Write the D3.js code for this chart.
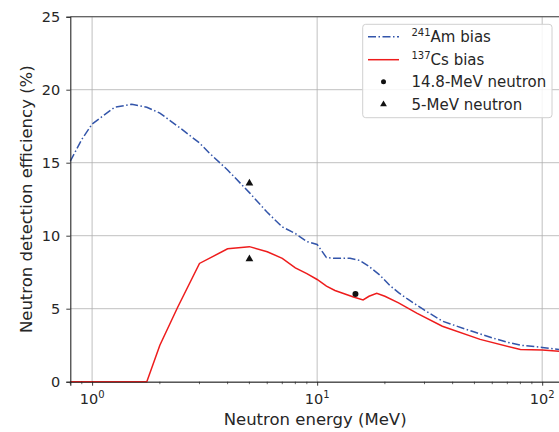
<!DOCTYPE html>
<html>
<head>
<meta charset="utf-8">
<script src="https://cdn.jsdelivr.net/npm/d3@7"></script>
<style>
  body { margin: 0; background: #fff; }
  svg text { font-family: "DejaVu Sans", sans-serif; fill: #262626; }
</style>
</head>
<body>
<div id="chart"></div>
<script>
// Am-241 bias curve (MeV, %)
const amEnergy = [0.8, 0.9, 1.0, 1.26, 1.5, 1.75, 2.0, 2.5, 3.0, 3.3, 4.0, 5.0, 6.0, 7.0, 8.0, 9.0, 10.0, 11.0, 12.0, 14.0, 15.5, 17.0, 19.0, 21.0, 23.0, 25.0, 30.0, 36.0, 40.0, 50.0, 60.0, 70.0, 80.0, 100.0, 120.0];
const amEff    = [15.1, 16.6, 17.65, 18.8, 19.0, 18.8, 18.4, 17.3, 16.35, 15.7, 14.5, 12.95, 11.6, 10.6, 10.15, 9.6, 9.4, 8.5, 8.45, 8.45, 8.3, 7.9, 7.3, 6.6, 6.1, 5.7, 4.9, 4.15, 3.9, 3.4, 3.0, 2.7, 2.5, 2.35, 2.2];
// Cs-137 bias curve
const csEnergy = [0.8, 1.75, 2.0, 2.4, 3.0, 4.0, 5.0, 6.0, 7.0, 8.0, 9.0, 10.0, 11.0, 12.0, 14.5, 16.0, 17.0, 18.4, 20.0, 23.0, 27.7, 36.0, 53.0, 80.0, 100.0, 120.0];
const csEff    = [0, 0, 2.5, 5.1, 8.1, 9.1, 9.25, 8.9, 8.45, 7.8, 7.4, 7.0, 6.55, 6.25, 5.8, 5.6, 5.85, 6.05, 5.85, 5.4, 4.7, 3.8, 2.9, 2.2, 2.17, 2.08];
// measured points
const dtEnergy = [14.8], dtEff = [6.0];
const ddEnergy = [5, 5], ddEff = [13.6, 8.4];

const yTicks = [0, 5, 10, 15, 20, 25];
const xTicks = [1, 10, 100];
const xTickLabels = ["0", "1", "2"];

const W = 559, H = 432;
const m = {left: 70.3, top: 16.7, right: 560, bottom: 381.7};

const svg = d3.select("#chart").append("svg")
  .attr("width", W).attr("height", H);

const x = d3.scaleLog().domain([0.8, 120]).range([m.left, m.right]);
const y = d3.scaleLinear().domain([0, 25]).range([m.bottom, m.top]);

// grid
const grid = svg.append("g").attr("stroke", "#b0b0b0").attr("stroke-width", 0.8);
grid.selectAll(".hg").data(yTicks).join("line")
  .attr("x1", m.left).attr("x2", m.right)
  .attr("y1", d => y(d)).attr("y2", d => y(d));
grid.selectAll(".vg").data(xTicks).join("line")
  .attr("x1", d => x(d)).attr("x2", d => x(d))
  .attr("y1", m.top).attr("y2", m.bottom);

// curves
const lineFn = (xs, ys) => d3.line().x((d, i) => x(xs[i])).y((d, i) => y(ys[i]))(xs);

svg.append("path").attr("d", lineFn(csEnergy, csEff))
  .attr("fill", "none").attr("stroke", "#ee1c1c").attr("stroke-width", 1.5);
svg.append("path").attr("d", lineFn(amEnergy, amEff))
  .attr("fill", "none").attr("stroke", "#3355aa").attr("stroke-width", 1.5)
  .attr("stroke-dasharray", "8,2.5,1.5,2.5");

svg.selectAll(".dt").data(dtEnergy).join("circle")
  .attr("cx", d => x(d)).attr("cy", (d, i) => y(dtEff[i])).attr("r", 3).attr("fill", "#111");
const tri = d3.symbol().type(d3.symbolTriangle).size(26);
svg.selectAll(".dd").data(ddEnergy).join("path")
  .attr("d", tri)
  .attr("transform", (d, i) => `translate(${x(d)},${y(ddEff[i])})`)
  .attr("fill", "#111");

// axes
const xAxis = d3.axisBottom(x).tickValues(xTicks).tickSize(4).tickFormat("");
const gx = svg.append("g").attr("transform", `translate(0,${m.bottom})`).call(xAxis);
const minor = [];
[0.1, 1, 10, 100].forEach(dec => { for (let k = 2; k <= 9; k++) { const v = dec * k; if (v >= 0.8 && v <= 120) minor.push(v); } });
gx.selectAll(".minor").data(minor).join("line").attr("class", "minor")
  .attr("x1", d => x(d)).attr("x2", d => x(d)).attr("y1", 0).attr("y2", 2.5)
  .attr("stroke", "#262626").attr("stroke-width", 0.7);
gx.selectAll(".xl").data(xTicks).join("text")
  .attr("x", d => x(d)).attr("y", 22).attr("text-anchor", "middle")
  .attr("font-size", 14.5)
  .each(function(d, i) {
    const t = d3.select(this);
    t.append("tspan").text("10");
    t.append("tspan").attr("font-size", 10).attr("dy", -6).text(xTickLabels[i]);
  });

const yAxis = d3.axisLeft(y).tickValues(yTicks).tickSize(4).tickPadding(6);
const gy = svg.append("g").attr("transform", `translate(${m.left},0)`).call(yAxis);
gy.selectAll("text").attr("font-size", 14.5).style("font-family", "DejaVu Sans").attr("fill", "#262626");
[gx, gy].forEach(g => {
  g.select(".domain").attr("stroke", "#262626").attr("stroke-width", 1.1);
  g.selectAll(".tick line").attr("stroke", "#262626").attr("stroke-width", 0.9);
});
svg.append("line").attr("x1", m.left).attr("x2", m.right).attr("y1", m.top).attr("y2", m.top)
  .attr("stroke", "#444").attr("stroke-width", 1.1);

// axis labels
svg.append("text").attr("x", (m.left + m.right) / 2).attr("y", 425)
  .attr("text-anchor", "middle").attr("font-size", 16.5).text("Neutron energy (MeV)");
svg.append("text").attr("transform", `translate(32,${(m.top + m.bottom) / 2}) rotate(-90)`)
  .attr("text-anchor", "middle").attr("font-size", 16.5).text("Neutron detection efficiency (%)");

// legend
const lg = svg.append("g");
lg.append("rect").attr("x", 362.7).attr("y", 24.3).attr("width", 189.3).attr("height", 93.4)
  .attr("rx", 3).attr("fill", "#fff").attr("fill-opacity", 0.85)
  .attr("stroke", "#d0d0d0").attr("stroke-width", 1);
const rows = [36.7, 59.7, 81.7, 104.3];
lg.append("line").attr("x1", 368).attr("x2", 399).attr("y1", rows[0]).attr("y2", rows[0])
  .attr("stroke", "#3355aa").attr("stroke-width", 1.5).attr("stroke-dasharray", "8,2.5,1.5,2.5");
lg.append("line").attr("x1", 368).attr("x2", 399).attr("y1", rows[1]).attr("y2", rows[1])
  .attr("stroke", "#ee1c1c").attr("stroke-width", 1.5);
lg.append("circle").attr("cx", 383.5).attr("cy", rows[2]).attr("r", 2.5).attr("fill", "#111");
lg.append("path").attr("d", d3.symbol().type(d3.symbolTriangle).size(20))
  .attr("transform", `translate(383.5,${rows[3]})`).attr("fill", "#111");
const legText = [["241", "Am bias"], ["137", "Cs bias"], [null, "14.8-MeV neutron"], [null, "5-MeV neutron"]];
legText.forEach((r, i) => {
  const t = lg.append("text").attr("x", 411.5).attr("y", rows[i] + 5.5).attr("font-size", 15);
  if (r[0]) {
    t.append("tspan").attr("font-size", 10).attr("dy", -6).text(r[0]);
    t.append("tspan").attr("dy", 6).text(r[1]);
  } else t.text(r[1]);
});
</script>
</body>
</html>
